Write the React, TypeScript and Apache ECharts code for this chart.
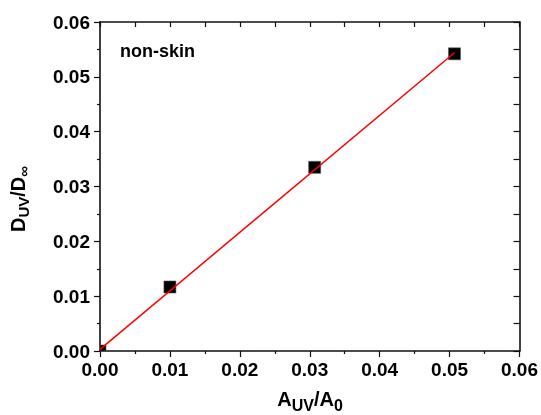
import React, { useEffect, useRef } from "react";
import * as echarts from "echarts";

const pointsX = [0.0, 0.01, 0.0307, 0.0507];
const pointsY = [0.0, 0.01167, 0.0335, 0.0542];
const fitX = [0.0, 0.0507];
const fitY = [0.0003, 0.0544];
const annotation = "non-skin";

const FONT = 'Arial, "Liberation Sans", sans-serif';

export default function App() {
  const ref = useRef<HTMLDivElement>(null);
  useEffect(() => {
    if (!ref.current) return;
    const chart = echarts.init(ref.current, null, { renderer: "svg" });
    const axisCommon = {
      type: "value" as const,
      min: 0,
      max: 0.06,
      interval: 0.01,
      splitLine: { show: false },
      axisLine: { show: true, onZero: false, lineStyle: { color: "#111", width: 1.6 } },
      minorTick: { show: true, splitNumber: 2, length: 3, lineStyle: { color: "#111", width: 1.2 } },
      minorSplitLine: { show: false },
    };
    chart.setOption({
      animation: false,
      textStyle: { fontFamily: FONT },
      grid: { left: 100, right: 21, top: 22, bottom: 64 },
      xAxis: [
        {
          ...axisCommon,
          position: "bottom",
          axisTick: { show: true, inside: false, length: 6, lineStyle: { color: "#111", width: 1.2 } },
          axisLabel: {
            margin: 9,
            fontSize: 19,
            fontWeight: "bold",
            color: "#000",
            fontFamily: FONT,
            formatter: (v: number) => v.toFixed(2),
          },
        },
        {
          ...axisCommon,
          position: "top",
          axisTick: { show: true, inside: true, length: 5, lineStyle: { color: "#111", width: 1.2 } },
          minorTick: { show: true, splitNumber: 2, length: 5, lineStyle: { color: "#111", width: 1.2 } },
          axisLabel: { show: false },
        },
      ],
      yAxis: [
        {
          ...axisCommon,
          position: "left",
          axisTick: { show: true, inside: false, length: 6, lineStyle: { color: "#111", width: 1.2 } },
          axisLabel: {
            margin: 10,
            fontSize: 19,
            fontWeight: "bold",
            color: "#000",
            fontFamily: FONT,
            formatter: (v: number) => v.toFixed(2),
          },
        },
        {
          ...axisCommon,
          position: "right",
          axisTick: { show: true, inside: true, length: 6, lineStyle: { color: "#111", width: 1.2 } },
          minorTick: { show: true, splitNumber: 2, length: 6, lineStyle: { color: "#111", width: 1.2 } },
          axisLabel: { show: false },
        },
      ],
      series: [
        {
          type: "custom",
          xAxisIndex: 0,
          yAxisIndex: 0,
          data: pointsX.map((x, i) => [x, pointsY[i]]),
          renderItem: (params: any, api: any) => {
            const p = api.coord([api.value(0), api.value(1)]);
            const s = 12;
            const cs = params.coordSys;
            const r = echarts.graphic.clipRectByRect(
              { x: p[0] - s / 2, y: p[1] - s / 2, width: s, height: s },
              { x: cs.x, y: cs.y, width: cs.width, height: cs.height }
            );
            if (!r) return null;
            return { type: "rect", shape: r, style: { fill: "#000", stroke: "#555", lineWidth: 0.6 } };
          },
          z: 2,
        },
        {
          type: "line",
          xAxisIndex: 0,
          yAxisIndex: 0,
          data: fitX.map((x, i) => [x, fitY[i]]),
          showSymbol: false,
          symbol: "none",
          lineStyle: { color: "#ff0000", width: 1.5 },
          z: 3,
        },
      ],
      graphic: [
        {
          type: "text",
          left: 120,
          top: 42,
          style: { text: annotation, font: `bold 18px ${FONT}`, fill: "#000" },
        },
        {
          type: "text",
          x: 310,
          y: 400,
          style: {
            text: "{n|A}{s|UV}{n|/A}{s|0}",
            align: "center",
            verticalAlign: "middle",
            rich: {
              n: { fontSize: 20, fontWeight: "bold", fontFamily: FONT, fill: "#000", padding: [0, 0, 2, 0] },
              s: { fontSize: 16, fontWeight: "bold", fontFamily: FONT, fill: "#000", padding: [10, 0, 0, 0] },
            },
          },
        },
        {
          type: "text",
          x: 18,
          y: 199,
          rotation: Math.PI / 2,
          style: {
            text: "{n|D}{s|UV}{n|/D}{s|∞}",
            align: "center",
            verticalAlign: "middle",
            rich: {
              n: { fontSize: 20, fontWeight: "bold", fontFamily: FONT, fill: "#000" },
              s: { fontSize: 15, fontWeight: "bold", fontFamily: FONT, fill: "#000", padding: [10, 0, 0, 0] },
            },
          },
        },
      ],
    });
    return () => chart.dispose();
  }, []);
  return <div ref={ref} style={{ position: "fixed", left: 0, top: 0, width: 541, height: 415 }} />;
}
